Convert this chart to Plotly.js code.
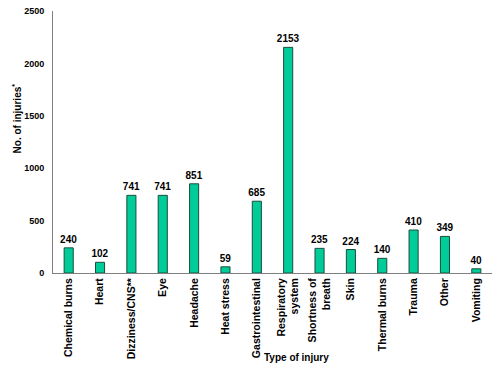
<!DOCTYPE html>
<html>
<head>
<meta charset="utf-8">
<script src="https://cdn.plot.ly/plotly-3.0.1.min.js"></script>
<style>html,body{margin:0;padding:0;background:#fff;}#chart{width:500px;height:375px;}</style>
</head>
<body>
<div id="chart"></div>
<script>
var categories = ["Chemical burns", "Heart", "Dizziness/CNS**", "Eye", "Headache", "Heat stress", "Gastrointestinal", "Respiratory<br>system", "Shortness of<br>breath", "Skin", "Thermal burns", "Trauma", "Other", "Vomiting"];
var injuries = [240, 102, 741, 741, 851, 59, 685, 2153, 235, 224, 140, 410, 349, 40];
var yTicks = [0, 500, 1000, 1500, 2000, 2500];

var FONT = "Liberation Sans, Arial, sans-serif";

var trace = {
  type: "bar",
  x: categories,
  y: injuries,
  text: injuries.map(String),
  textposition: "outside",
  constraintext: "none",
  cliponaxis: false,
  textfont: {family: FONT, size: 10, color: "#000", weight: "bold"},
  marker: {color: "#00cc99", line: {color: "#1a4d3a", width: 1}},
  hoverinfo: "x+y"
};

var layout = {
  width: 500, height: 375,
  margin: {l: 53, r: 8, t: 11, b: 102},
  paper_bgcolor: "#fff", plot_bgcolor: "#fff",
  showlegend: false,
  bargap: 0.71,
  font: {family: FONT, size: 9, color: "#000", weight: "bold"},
  xaxis: {
    type: "category",
    tickangle: -90,
    showline: true, linecolor: "#808080", linewidth: 1,
    ticks: "", showgrid: false, zeroline: false,
    tickfont: {family: FONT, size: 10.5, color: "#000", weight: "bold"}
  },
  yaxis: {
    range: [0, 2500],
    tickvals: yTicks,
    ticktext: yTicks.map(String),
    showline: true, linecolor: "#808080", linewidth: 1,
    ticks: "", showgrid: false, zeroline: false,
    ticklabelstandoff: 6,
    tickfont: {family: FONT, size: 9, color: "#000", weight: "bold"}
  },
  annotations: [
    {text: "Type of injury", xref: "paper", yref: "paper", x: 0.555, y: 0, yshift: -84,
     xanchor: "center", yanchor: "middle", showarrow: false,
     font: {family: FONT, size: 10, color: "#000", weight: "bold"}},
    {text: "No. of injuries<sup>*</sup>", xref: "paper", yref: "paper", x: 0, xshift: -36, y: 0.59,
     xanchor: "center", yanchor: "middle", textangle: -90, showarrow: false,
     font: {family: FONT, size: 10, color: "#000", weight: "bold"}}
  ]
};

Plotly.newPlot("chart", [trace], layout, {displayModeBar: false, staticPlot: true});
</script>
</body>
</html>
